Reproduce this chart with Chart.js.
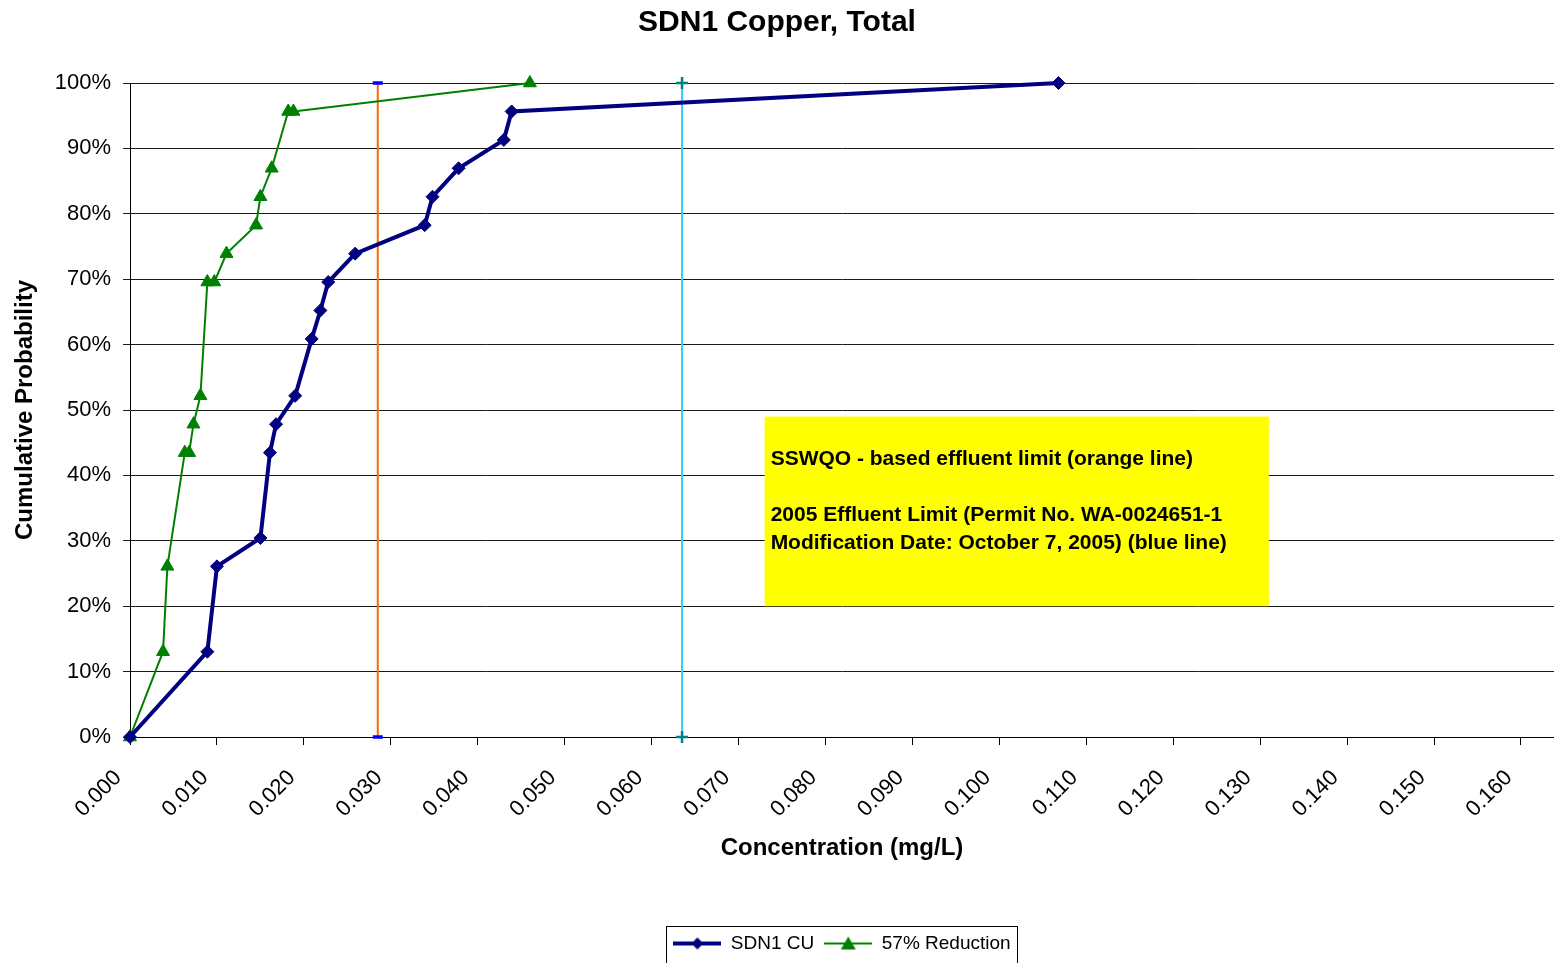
<!DOCTYPE html>
<html>
<head>
<meta charset="utf-8">
<script src="https://cdn.jsdelivr.net/npm/chart.js@4.4.0/dist/chart.umd.min.js"></script>
<style>
  html, body { margin: 0; padding: 0; background: #fff; }
  #wrap { width: 1554px; height: 963px; }
</style>
</head>
<body>
<div id="wrap"><canvas id="ctx"></canvas></div>
<script>
const ctx = document.getElementById("ctx");

// SDN1 CU (mg/L) and cumulative probability (%)
const sdn1Conc = [0, 0.0089, 0.0100, 0.0150, 0.0161, 0.0168, 0.0190, 0.0209, 0.0219, 0.0228, 0.0259, 0.0339, 0.0348, 0.0378, 0.0430, 0.0439, 0.1068];
const sdn1Prob = [0, 13.04, 26.09, 30.43, 43.48, 47.83, 52.17, 60.87, 65.22, 69.57, 73.91, 78.26, 82.61, 86.96, 91.30, 95.65, 100];

// 57% Reduction
const redConc = [0, 0.0038, 0.0043, 0.0063, 0.0068, 0.0073, 0.0081, 0.0089, 0.0097, 0.0111, 0.0145, 0.0150, 0.0163, 0.0182, 0.0188, 0.0460];
const redProb = [0, 13.04, 26.09, 43.48, 43.48, 47.83, 52.17, 69.57, 69.57, 73.91, 78.26, 82.61, 86.96, 95.65, 95.65, 100];

// limit lines
const sswqoLimit = 0.0285;
const permitLimit = 0.0635;

const noteLines = [
  "SSWQO - based effluent limit (orange line)",
  "",
  "2005 Effluent Limit (Permit No. WA-0024651-1",
  "Modification Date: October 7, 2005) (blue line)",
];

function toPoints(xs, ys) {
  const pts = [];
  for (let i = 0; i < xs.length; i++) {
    pts.push({ x: xs[i], y: ys[i] });
  }
  return pts;
}

function legendSwatch(color, lineWidth, marker) {
  const c = document.createElement("canvas");
  c.width = 48;
  c.height = 16;
  const g = c.getContext("2d");
  g.strokeStyle = color;
  g.fillStyle = color;
  g.lineWidth = lineWidth;
  g.beginPath();
  g.moveTo(0, 8);
  g.lineTo(48, 8);
  g.stroke();
  g.beginPath();
  if (marker === "diamond") {
    g.moveTo(24, 2);
    g.lineTo(30, 8);
    g.lineTo(24, 14);
    g.lineTo(18, 8);
  } else {
    g.moveTo(24, 1);
    g.lineTo(31.5, 14);
    g.lineTo(16.5, 14);
  }
  g.closePath();
  g.fill();
  return c;
}

const swatchBlue = legendSwatch("#000080", 4, "diamond");
const swatchGreen = legendSwatch("#008000", 2, "triangle");

const notePlugin = {
  id: "note",
  beforeDatasetsDraw(chart) {
    const x = chart.scales.x;
    const y = chart.scales.y;
    const left = x.getPixelForValue(0.0730);
    const right = x.getPixelForValue(0.1310);
    const top = y.getPixelForValue(49.0);
    const bottom = y.getPixelForValue(20.0);
    const c = chart.ctx;
    c.save();
    c.fillStyle = "#ffff00";
    c.fillRect(left, top, right - left, bottom - top);
    c.fillStyle = "#000";
    c.font = "bold 21px 'Liberation Sans', Arial, sans-serif";
    c.textBaseline = "middle";
    for (let i = 0; i < noteLines.length; i++) {
      c.fillText(noteLines[i], left + 6, top + 43 + i * 28);
    }
    c.restore();
  },
};

const legendBox = {
  id: "legendBox",
  afterDraw(chart) {
    const boxes = chart.legend.legendHitBoxes;
    if (!boxes || !boxes.length) return;
    const first = boxes[0];
    const last = boxes[boxes.length - 1];
    const c = chart.ctx;
    c.save();
    c.strokeStyle = "#000";
    c.lineWidth = 1;
    c.strokeRect(Math.round(first.left - 7) + 0.5, chart.legend.top + 2.5, Math.round(last.left + last.width - first.left + 14), 60);
    c.restore();
  },
};

const font = "'Liberation Sans', Arial, sans-serif";

new Chart(ctx, {
  type: "scatter",
  data: {
    datasets: [
      {
        label: "SDN1 CU",
        data: toPoints(sdn1Conc, sdn1Prob),
        showLine: true,
        borderColor: "#000080",
        backgroundColor: "#000080",
        borderWidth: 4,
        pointStyle: "rectRot",
        pointRadius: 6.5,
        pointBorderWidth: 1,
        clip: false,
      },
      {
        label: "57% Reduction",
        data: toPoints(redConc, redProb),
        showLine: true,
        borderColor: "#008000",
        backgroundColor: "#008000",
        borderWidth: 2,
        pointStyle: "triangle",
        pointRadius: 7.5,
        pointBorderWidth: 1,
        clip: false,
      },
      {
        label: "SSWQO",
        data: [{ x: sswqoLimit, y: 0 }, { x: sswqoLimit, y: 100 }],
        showLine: true,
        borderColor: "#ff6600",
        borderWidth: 2,
        pointStyle: "line",
        pointRadius: 5,
        pointBorderColor: "#0000ff",
        pointBorderWidth: 3.5,
        clip: false,
      },
      {
        label: "Permit",
        data: [{ x: permitLimit, y: 0 }, { x: permitLimit, y: 100 }],
        showLine: true,
        borderColor: "#33ccff",
        borderWidth: 2,
        pointStyle: "cross",
        pointRadius: 6,
        pointBorderColor: "#008080",
        pointBorderWidth: 2.5,
        clip: false,
      },
    ],
  },
  options: {
    responsive: true,
    maintainAspectRatio: false,
    animation: false,
    layout: { padding: 0, autoPadding: false },
    plugins: {
      tooltip: { enabled: false },
      title: {
        display: true,
        text: "SDN1 Copper, Total",
        color: "#000",
        font: { family: font, size: 30, weight: "bold" },
        padding: { top: 5, bottom: 42 },
      },
      legend: {
        position: "bottom",
        fullSize: false,
        labels: {
          usePointStyle: true,
          pointStyleWidth: 48,
          color: "#000",
          font: { family: font, size: 19 },
          padding: 10,
          generateLabels: function () {
            return [
              { text: "SDN1 CU", pointStyle: swatchBlue, datasetIndex: 0, fontColor: "#000", lineWidth: 0, strokeStyle: "transparent", fillStyle: "transparent" },
              { text: "57% Reduction", pointStyle: swatchGreen, datasetIndex: 1, fontColor: "#000", lineWidth: 0, strokeStyle: "transparent", fillStyle: "transparent" },
            ];
          },
        },
      },
    },
    scales: {
      x: {
        type: "linear",
        min: 0,
        max: 0.1638,
        afterFit: function (scale) {
          scale.height = 187;
          scale.paddingRight = 0;
        },
        border: { display: true, color: "#000", width: 1 },
        grid: { drawOnChartArea: false, drawTicks: true, tickLength: 8, color: "#000" },
        ticks: {
          stepSize: 0.01,
          includeBounds: false,
          autoSkip: false,
          minRotation: 45,
          maxRotation: 45,
          padding: 20,
          labelOffset: -12,
          color: "#000",
          font: { family: font, size: 22 },
          callback: function (v) {
            return v.toFixed(3);
          },
        },
        title: {
          display: true,
          text: "Concentration (mg/L)",
          color: "#000",
          font: { family: font, size: 24, weight: "bold" },
          padding: { top: 0, bottom: 61 },
        },
      },
      y: {
        min: 0,
        max: 100,
        afterFit: function (scale) {
          scale.width = 130;
        },
        border: { display: true, color: "#000", width: 1 },
        grid: { color: "#1a1a1a", tickLength: 7 },
        ticks: {
          stepSize: 10,
          padding: 12,
          color: "#000",
          font: { family: font, size: 22 },
          callback: function (v) {
            return v + "%";
          },
        },
        title: {
          display: true,
          text: "Cumulative Probability",
          color: "#000",
          font: { family: font, size: 24, weight: "bold" },
          padding: { top: 11, bottom: 0 },
        },
      },
    },
  },
  plugins: [notePlugin, legendBox],
});
</script>
</body>
</html>
